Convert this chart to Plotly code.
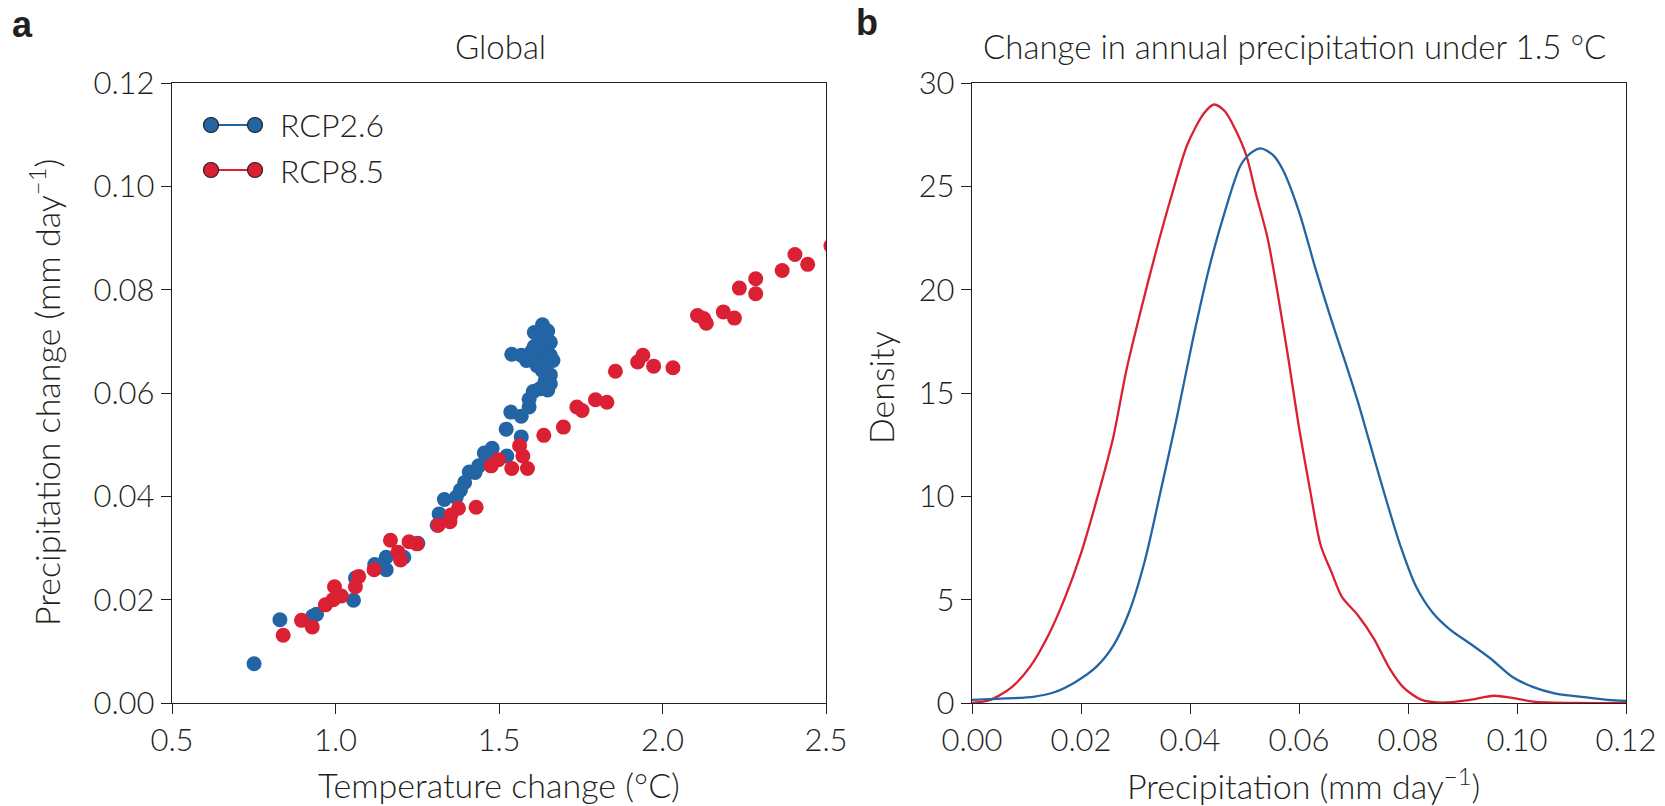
import plotly.graph_objects as go

# ---------------- Data ----------------
rcp26_temp = [0.751, 0.830, 0.930, 0.942, 1.055, 1.061, 1.120, 1.155, 1.155, 1.209, 1.252,
              1.311, 1.317, 1.333, 1.369, 1.382, 1.395, 1.409, 1.427, 1.438, 1.455, 1.463,
              1.479, 1.524, 1.522, 1.568, 1.536, 1.568, 1.592, 1.592, 1.605, 1.625, 1.649,
              1.641, 1.657, 1.633, 1.539, 1.592, 1.625, 1.657, 1.608, 1.641, 1.657, 1.608,
              1.633, 1.649, 1.625, 1.616, 1.641, 1.584, 1.568, 1.665, 1.657, 1.600, 1.620]
rcp26_precip = [0.0076, 0.0161, 0.0168, 0.0172, 0.0199, 0.0242, 0.0268, 0.0282, 0.0258, 0.0282, 0.0309,
                0.0344, 0.0366, 0.0394, 0.0398, 0.0412, 0.0427, 0.0447, 0.0446, 0.0459, 0.0484, 0.0474,
                0.0493, 0.0478, 0.0530, 0.0515, 0.0563, 0.0555, 0.0573, 0.0588, 0.0603, 0.0608, 0.0606,
                0.0623, 0.0635, 0.0643, 0.0675, 0.0673, 0.0663, 0.0673, 0.0690, 0.0695, 0.0698, 0.0717,
                0.0732, 0.0720, 0.0701, 0.0653, 0.0651, 0.0663, 0.0673, 0.0663, 0.0618, 0.0680, 0.0685]

rcp85_temp = [0.840, 0.896, 0.929, 0.969, 0.997, 0.993, 1.018, 1.061, 1.071, 1.118, 1.168,
              1.191, 1.199, 1.225, 1.249, 1.314, 1.350, 1.353, 1.376, 1.430, 1.476, 1.498,
              1.539, 1.563, 1.573, 1.587, 1.637, 1.697, 1.738, 1.754, 1.795, 1.830, 1.856,
              1.924, 1.940, 1.973, 2.032, 2.107, 2.126, 2.134, 2.186, 2.220, 2.235, 2.285,
              2.285, 2.366, 2.405, 2.444, 2.515]
rcp85_precip = [0.0131, 0.0160, 0.0147, 0.0190, 0.0225, 0.0200, 0.0207, 0.0225, 0.0245, 0.0258, 0.0315,
                0.0292, 0.0277, 0.0312, 0.0308, 0.0344, 0.0351, 0.0364, 0.0377, 0.0379, 0.0459, 0.0471,
                0.0454, 0.0498, 0.0478, 0.0454, 0.0518, 0.0534, 0.0573, 0.0566, 0.0587, 0.0582, 0.0642,
                0.0660, 0.0673, 0.0652, 0.0649, 0.0750, 0.0744, 0.0735, 0.0757, 0.0745, 0.0803, 0.0821,
                0.0792, 0.0837, 0.0868, 0.0849, 0.0885]

kde85_x = [0.0, 0.0034, 0.0073, 0.0107, 0.0142, 0.0171, 0.0200, 0.0229, 0.0259, 0.0283, 0.0308,
           0.0337, 0.0366, 0.0395, 0.0425, 0.0444, 0.0464, 0.0483, 0.0503, 0.0522, 0.0542, 0.0561,
           0.0581, 0.0600, 0.0620, 0.0640, 0.0659, 0.0679, 0.0708, 0.0737, 0.0767, 0.0791, 0.0825,
           0.0864, 0.0913, 0.0957, 0.0991, 0.1030, 0.1108, 0.1200]
kde85_y = [0.0, 0.15, 0.77, 1.77, 3.38, 5.12, 7.24, 9.85, 12.84, 16.07, 18.81,
           21.79, 24.53, 27.01, 28.51, 28.96, 28.63, 27.76, 26.52, 24.53, 22.54, 19.80,
           16.57, 13.33, 10.35, 7.61, 6.37, 5.12, 4.25, 3.13, 1.64, 0.77, 0.15,
           0.02, 0.15, 0.35, 0.25, 0.07, 0.0, 0.0]

kde26_x = [0.0, 0.0063, 0.0112, 0.0151, 0.0190, 0.0229, 0.0259, 0.0288, 0.0317, 0.0347, 0.0376,
           0.0405, 0.0435, 0.0464, 0.0493, 0.0513, 0.0530, 0.0552, 0.0571, 0.0600, 0.0630, 0.0659,
           0.0684, 0.0708, 0.0727, 0.0757, 0.0786, 0.0815, 0.0845, 0.0879, 0.0913, 0.0952, 0.0991,
           0.1030, 0.1069, 0.1128, 0.1167, 0.1200]
kde26_y = [0.15, 0.22, 0.30, 0.52, 1.02, 1.77, 2.76, 4.38, 6.87, 10.35, 13.83,
           17.56, 21.04, 23.78, 26.02, 26.64, 26.84, 26.52, 25.77, 23.78, 21.04, 18.56,
           16.57, 14.58, 12.84, 10.10, 7.61, 5.62, 4.38, 3.51, 2.89, 2.14, 1.27,
           0.77, 0.47, 0.27, 0.15, 0.10]

a_xticks = [0.5, 1.0, 1.5, 2.0, 2.5]
a_yticks = [0.00, 0.02, 0.04, 0.06, 0.08, 0.10, 0.12]
b_xticks = [0.00, 0.02, 0.04, 0.06, 0.08, 0.10, 0.12]
b_yticks = [0, 5, 10, 15, 20, 25, 30]
series_names = ["RCP2.6", "RCP8.5"]

# ---------------- Style ----------------
BLUE = "#2264a4"
RED = "#da2032"
INK = "#231f20"
FONT = "Lato"
FS = 31
W, H = 1665, 806

def px_x(p):
    return p / W

def px_y(p):
    return 1 - p / H

fig = go.Figure()

fig.add_trace(go.Scatter(x=rcp26_temp, y=rcp26_precip, mode="markers", name=series_names[0],
                         marker=dict(color=BLUE, size=15, line=dict(width=0)),
                         xaxis="x", yaxis="y", showlegend=False))
fig.add_trace(go.Scatter(x=rcp85_temp, y=rcp85_precip, mode="markers", name=series_names[1],
                         marker=dict(color=RED, size=15, line=dict(width=0)),
                         xaxis="x", yaxis="y", showlegend=False))

fig.add_trace(go.Scatter(x=kde85_x, y=kde85_y, mode="lines", name=series_names[1],
                         line=dict(color=RED, width=2.3, shape="spline", smoothing=0.8),
                         xaxis="x2", yaxis="y2", showlegend=False))
fig.add_trace(go.Scatter(x=kde26_x, y=kde26_y, mode="lines", name=series_names[0],
                         line=dict(color=BLUE, width=2.3, shape="spline", smoothing=0.8),
                         xaxis="x2", yaxis="y2", showlegend=False))

axis_common = dict(showline=True, mirror=True, linecolor=INK, linewidth=1.4,
                   ticks="outside", ticklen=10, tickwidth=1.4, tickcolor=INK,
                   showgrid=False, zeroline=False, automargin=False,
                   tickfont=dict(family=FONT, size=FS, color=INK, weight=300))

yd = [px_y(703), px_y(83)]
fig.update_layout(
    width=W, height=H, autosize=False,
    margin=dict(l=0, r=0, t=0, b=0, pad=0),
    paper_bgcolor="white", plot_bgcolor="white",
    font=dict(family=FONT, size=FS, color=INK, weight=300),
    xaxis=dict(domain=[px_x(172), px_x(826)], range=[0.5, 2.5], tickvals=a_xticks,
               tickformat=".1f", anchor="y", **axis_common),
    yaxis=dict(domain=yd, range=[0, 0.12], tickvals=a_yticks, tickformat=".2f",
               anchor="x", **axis_common),
    xaxis2=dict(domain=[px_x(972), px_x(1626)], range=[0, 0.12], tickvals=b_xticks,
                tickformat=".2f", anchor="y2", **axis_common),
    yaxis2=dict(domain=yd, range=[0, 30], tickvals=b_yticks, tickformat="d",
                anchor="x2", **axis_common),
    showlegend=False,
)

ann = []
def text(x, y, s, size=FS, xanchor="center", yanchor="middle", angle=0, bold=False, family=FONT):
    ann.append(dict(x=px_x(x), y=px_y(y), xref="paper", yref="paper", text=s, showarrow=False,
                    xanchor=xanchor, yanchor=yanchor, textangle=angle,
                    font=dict(family=family, size=size, color=INK, weight=700 if bold else 300)))

text(501, 46, "Global", size=33)
text(1294, 46, "Change in annual precipitation under 1.5 °C", size=33)
text(499, 784, "Temperature change (°C)", size=34)
text(1303, 784, "Precipitation (mm day<sup>−1</sup>)", size=34)
text(45, 393, "Precipitation change (mm day<sup>−1</sup>)", size=34, angle=-90)
text(880, 388, "Density", size=34, angle=-90)
text(22, 2, "a", size=36, yanchor="top", bold=True, family="Liberation Sans")
text(867, 0, "b", size=36, yanchor="top", bold=True, family="Liberation Sans")

# legend
shapes = []
for i, (name, col) in enumerate(zip(series_names, [BLUE, RED])):
    yy = 125 + 45 * i
    shapes.append(dict(type="line", xref="paper", yref="paper", x0=px_x(211), x1=px_x(255),
                       y0=px_y(yy), y1=px_y(yy), line=dict(color=col, width=2.2)))
    for xx in (211, 255):
        shapes.append(dict(type="circle", xref="paper", yref="paper", xsizemode="pixel",
                           ysizemode="pixel", xanchor=px_x(xx), yanchor=px_y(yy),
                           x0=-7.5, x1=7.5, y0=-7.5, y1=7.5, fillcolor=col,
                           line=dict(color=INK, width=1.2)))
    text(278, yy, name, size=32, xanchor="left")

fig.update_layout(annotations=ann, shapes=shapes)
fig.write_html("out.html", config={"displayModeBar": False},
               post_script="document.body.style.margin='0';document.body.style.overflow='hidden';")
